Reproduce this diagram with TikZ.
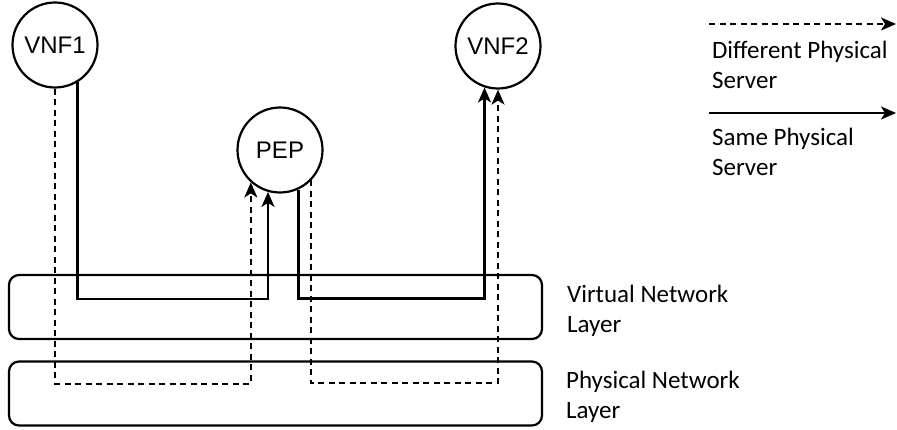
\documentclass[tikz,border=0pt]{standalone}
\usepackage{fontspec}
\setmainfont{Carlito}
\newfontfamily\arialfont{Liberation Sans}
\usetikzlibrary{arrows.meta, positioning}

\begin{document}
\begin{tikzpicture}[x=1pt, y=-1pt, line width=2.2pt,
        vnf/.style={circle, draw, minimum size=85pt, inner sep=0pt, font=\arialfont\fontsize{24}{28}\selectfont},
        layer/.style={draw, rounded corners=10pt, minimum width=533pt, minimum height=64pt},
        caption/.style={align=left, anchor=west, inner sep=0pt, font=\fontsize{25}{30}\selectfont},
        same/.style={-{Stealth[length=15pt, width=13pt, inset=4pt]}},
        diff/.style={dash pattern=on 6pt off 4.5pt, -{Stealth[length=15pt, width=13pt, inset=4pt]}}]
        \useasboundingbox (0, 0) rectangle (897, 430);

        \node[vnf] at (55, 45) (vnf1) {VNF1};
        \node[vnf] at (280, 150) (pep) {PEP};
        \node[vnf] at (498, 46) (vnf2) {VNF2};

        \node[layer] at (275.5, 307) (virtual) {};
        \node[layer] at (275.5, 393.5) (physical) {};
        \node[caption] at (566, 311) (virtual label) {Virtual Network\\Layer};
        \node[caption] at (565, 397) (physical label) {Physical Network\\Layer};

        % legend
        \coordinate (diff start) at (709, 24);
        \coordinate (diff end) at (896, 24);
        \coordinate (same start) at (709, 113);
        \coordinate (same end) at (896, 113);
        \node[caption] at (711, 65) (diff label) {Different Physical\\Server};
        \node[caption] at (711, 152) (same label) {Same Physical\\Server};
        \draw[diff] (diff start) -- (diff end);
        \draw[same] (same start) -- (same end);

        \draw[same] (vnf1.-59) -- ++(0, 217) -| (pep.-106);
        \draw[diff] (vnf1.south) -- ++(0, 295) -| (pep.-132);
        \draw[same] (pep.-65) -- ++(0, 109) -| (vnf2.-108);
        \draw[diff] (pep.-44) -- ++(0, 203) -| (vnf2.south);
    \end{tikzpicture}
\end{document}
